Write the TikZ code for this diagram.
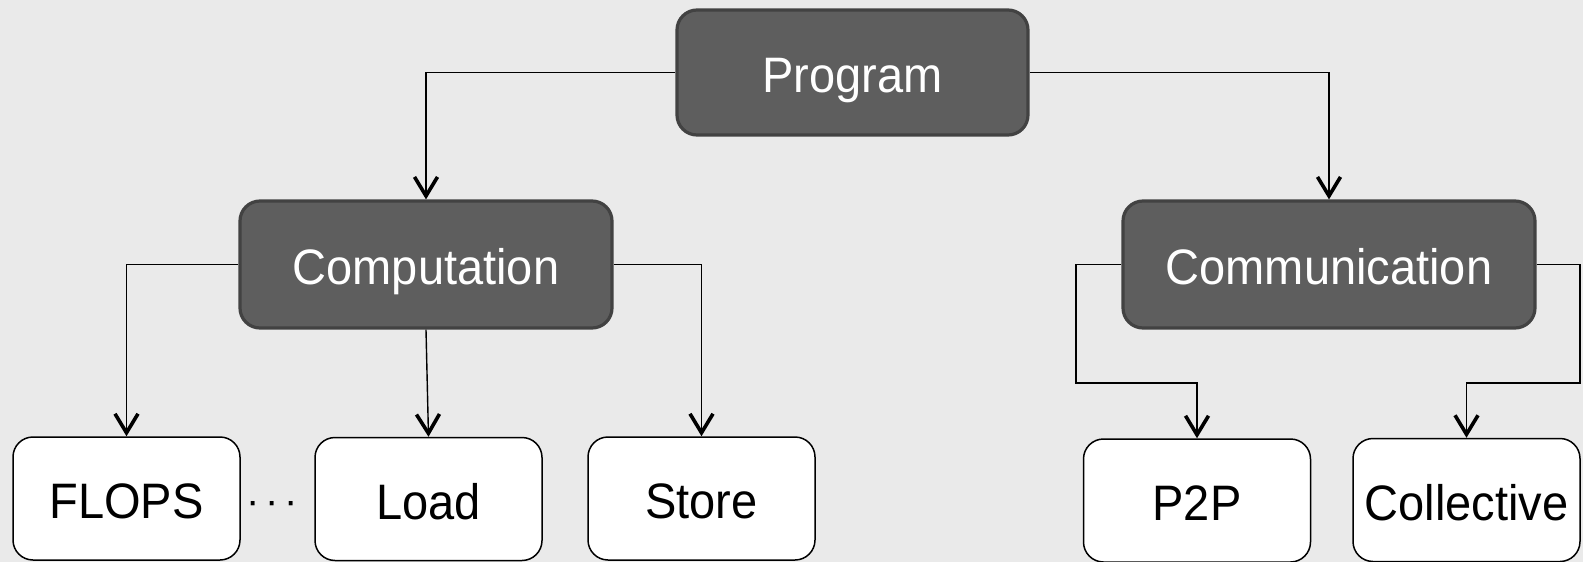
\documentclass[tikz,border=0pt]{standalone}
\usepackage{fontspec}
\setmainfont{Liberation Sans}
\usetikzlibrary{arrows.meta}
\definecolor{bgc}{HTML}{EAEAEA}
\definecolor{darkfill}{HTML}{5E5E5E}
\definecolor{darkline}{HTML}{424242}
\newcommand{\lbl}[1]{\scalebox{1}[1.06]{#1}}
\begin{document}
\begin{tikzpicture}[x=1pt,y=-1pt,
  txt/.style={inner sep=0pt, text height=40pt, text depth=0pt},
  dark/.style={txt, draw=darkline, line width=3.2pt, fill=darkfill, rounded corners=20pt,
    text=white, font=\fontsize{47}{47}\selectfont},
  light/.style={txt, draw=black, line width=1.5pt, fill=white, rounded corners=20pt,
    text=black, font=\fontsize{47}{47}\selectfont,
    minimum width=227pt, minimum height=123pt},
  conn/.style={line width=1.4pt, -{Straight Barb[length=19pt,width=23pt,line width=3.6pt 0]}}]
\fill[bgc] (0,0) rectangle (1583,562);
\useasboundingbox (0,0) rectangle (1583,562);

\node[dark, minimum width=351pt, minimum height=125pt] (prog) at (852.5,72.5) {\lbl{Program}};
\node[dark, minimum width=372pt, minimum height=127pt] (comp) at (426,264.5) {\lbl{Computation}};
\node[dark, minimum width=412pt, minimum height=127pt] (comm) at (1329,264.5) {\lbl{Communication}};

\node[light] (flops) at (126.5,498.5) {\lbl{FLOPS}};
\node[light] (load) at (428.5,499) {\lbl{Load}};
\node[light] (store) at (701.5,498.5) {\lbl{Store}};
\node[light] (p2p) at (1197,500.5) {\lbl{P2P}};
\node[light] (coll) at (1466.5,500) {\lbl{Collective}};

\node[font=\fontsize{40}{40}\selectfont, anchor=base, inner sep=0pt] (dots) at (272,514)
  {·\hspace{5.9pt}·\hspace{5.9pt}·};

\coordinate (cl) at (1076,383);
\coordinate (cr) at (1580,383);

\draw[conn] (prog.west) -| (comp.north);
\draw[conn] (prog.east) -| (comm.north);
\draw[conn] (comp.west) -| (flops.north);
\draw[conn] (comp.south) -- (load.north);
\draw[conn] (comp.east) -| (store.north);
\draw[conn] (comm.west) -| (cl) -| (p2p.north);
\draw[conn] (comm.east) -| (cr) -| (coll.north);
\end{tikzpicture}
\end{document}
